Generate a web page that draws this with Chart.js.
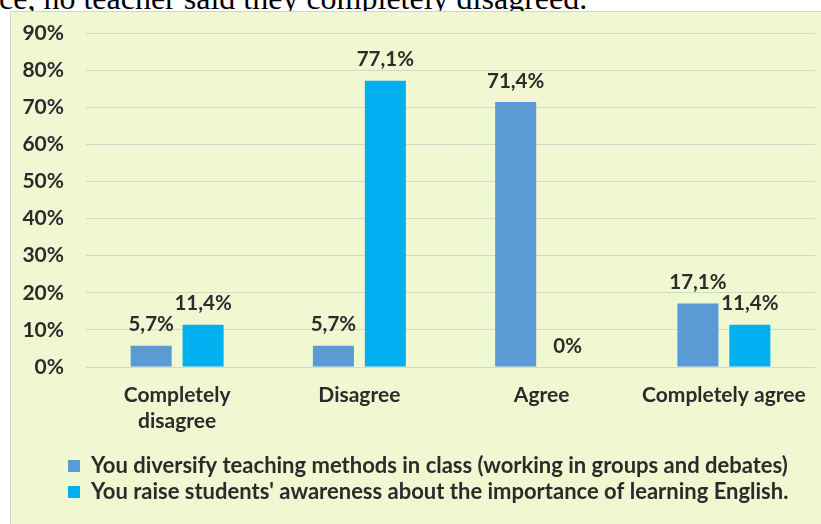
<!DOCTYPE html>
<html>
<head>
<meta charset="utf-8">
<script src="https://cdn.jsdelivr.net/npm/chart.js@4"></script>
<style>
  html, body { margin: 0; padding: 0; background: #ffffff; overflow: hidden; }
  body { width: 821px; height: 524px; position: relative; }
  /* sentence of the body text above the figure, mostly cut off */
  .lead {
    position: absolute; left: -1px; top: -15px;
    font-family: "Liberation Serif", "Times New Roman", serif;
    font-size: 32px; line-height: 26px; color: #000; white-space: nowrap;
  }
  .frame {
    position: absolute; left: 10px; top: 11px; width: 811px; height: 513px;
    box-sizing: border-box; background: #f0f8d2;
    border-top: 1px solid #d2d4cc; border-left: 1px solid #d2d4cc;
  }
  .frame canvas { display: block; }
</style>
</head>
<body>
<div class="lead">ce, no teacher said they completely disagreed.</div>
<div class="frame"><canvas id="surveyChart" width="810" height="512"></canvas></div>
<script>
// Survey answers, percentage of teachers
const categories = [['Completely', 'disagree'], 'Disagree', 'Agree', 'Completely agree'];
const diversifyLabel = 'You diversify teaching methods in class (working in groups and debates)';
const awarenessLabel = "You raise students' awareness about the importance of learning English.";
const diversifyValues = [5.7, 5.7, 71.4, 17.1];
const awarenessValues = [11.4, 77.1, 0, 11.4];
const yTicks = [0, 10, 20, 30, 40, 50, 60, 70, 80, 90];

const textColor = '#2b2b2b';
const fontFamily = 'Lato, "Open Sans", sans-serif';

function pct(v) {
    return v === 0 ? '0%' : v.toFixed(1).replace('.', ',') + '%';
}

// value labels above every bar
const barLabels = {
    id: 'barLabels',
    afterDatasetsDraw(chart) {
        const ctx = chart.ctx;
        ctx.save();
        ctx.font = 'bold 20.5px ' + fontFamily;
        ctx.fillStyle = textColor;
        ctx.textAlign = 'center';
        ctx.textBaseline = 'middle';
        chart.data.datasets.forEach((ds, i) => {
            chart.getDatasetMeta(i).data.forEach((bar, j) => {
                ctx.fillText(pct(ds.data[j]), bar.x, bar.y - 21);
            });
        });
        ctx.restore();
    }
};

// legend sits indented under the plot, not at the canvas edge
const legendIndent = {
    id: 'legendIndent',
    afterLayout(chart) {
        chart.legend.left += 45;
        chart.legend.right += 45;
    }
};

const ctx = document.getElementById('surveyChart').getContext('2d');
const surveyChart = new Chart(ctx, {
    type: 'bar',
    data: {
        labels: categories,
        datasets: [{
            label: diversifyLabel,
            data: diversifyValues,
            backgroundColor: '#5b9bd5',
            categoryPercentage: 0.57,
            barPercentage: 0.79
        }, {
            label: awarenessLabel,
            data: awarenessValues,
            backgroundColor: '#00b0f0',
            categoryPercentage: 0.57,
            barPercentage: 0.79
        }]
    },
    options: {
        responsive: false,
        animation: false,
        devicePixelRatio: 1,
        layout: {
            padding: { top: 21, left: 8, right: 6, bottom: 11 }
        },
        scales: {
            x: {
                grid: { display: false },
                border: { display: false },
                ticks: {
                    color: textColor,
                    padding: 7,
                    maxRotation: 0,
                    autoSkip: false,
                    font: { family: fontFamily, size: 21, weight: 'bold', lineHeight: 1.25 }
                },
                afterFit: (scale) => { scale.height = 84; }
            },
            y: {
                min: 0,
                max: 90,
                afterBuildTicks: (scale) => { scale.ticks = yTicks.map(v => ({ value: v })); },
                grid: { color: '#d4d8c4', lineWidth: 1, drawTicks: false },
                border: { display: false },
                ticks: {
                    color: textColor,
                    padding: 22,
                    callback: (v) => v + '%',
                    font: { family: fontFamily, size: 21, weight: 'bold' }
                },
                afterFit: (scale) => {
                    scale.width = 67;
                    // labels may overhang the plot top; don't push the plot down for them
                    scale.paddingTop = 0;
                    scale.paddingBottom = 0;
                }
            }
        },
        plugins: {
            legend: {
                position: 'bottom',
                align: 'start',
                labels: {
                    color: textColor,
                    boxWidth: 12,
                    boxHeight: 12,
                    padding: 4,
                    font: { family: fontFamily, size: 22, weight: 'bold' }
                }
            },
            tooltip: { enabled: false }
        }
    },
    plugins: [barLabels, legendIndent]
});
</script>
</body>
</html>
